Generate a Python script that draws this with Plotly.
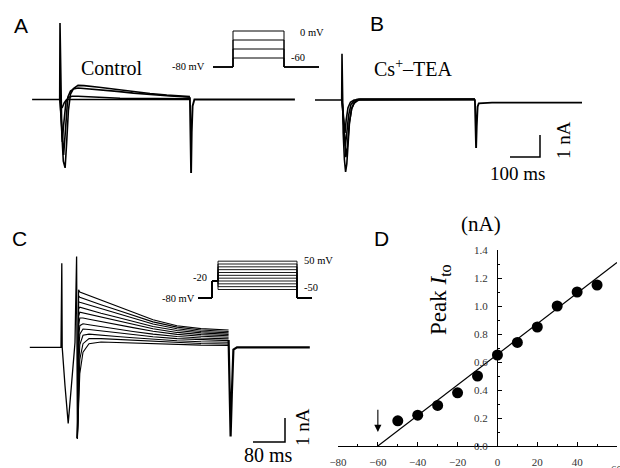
import plotly.graph_objects as go

W, H = 620, 468
SERIF = "Liberation Serif"
SANS = "Liberation Sans"

# ---------------- data ----------------
# Panel A (Control): time (ms) vs current (nA)
a_t1 = [96, 99, 100, 102, 106, 111, 117, 122, 128, 135, 145, 160, 180, 230, 290, 345, 400, 456, 533]
a_i1 = [0, 0, 3.48, 1.0, -1.5, -2.8, -3.11, -2.0, -0.5, 0.25, 0.5, 0.64, 0.63, 0.56, 0.45, 0.35, 0.27, 0.2, 0.13]
a_t2 = [100, 104, 108, 112, 116, 120, 126, 135, 145, 160, 180, 230, 290, 345, 400, 456, 533]
a_i2 = [0, -1.0, -2.0, -2.52, -1.8, -0.8, 0.1, 0.38, 0.48, 0.52, 0.5, 0.45, 0.37, 0.29, 0.22, 0.17, 0.1]
a_t3 = [100, 103, 106, 108, 111, 115, 120, 128, 140, 160, 200, 300, 533]
a_i3 = [0, -0.8, -1.6, -1.93, -1.3, -0.6, -0.1, 0.1, 0.15, 0.15, 0.12, 0.06, 0.03]
a_t4 = [7, 100, 104, 108, 114, 122, 533]
a_i4 = [0, 0, -0.3, -0.35, -0.15, 0, 0]
a_tail_t = [533, 535, 537, 539, 542, 548, 600, 883]
a_tail_i = [0.1, -1.5, -3.34, -1.5, -0.3, 0, 0, 0]

# Panel A inset protocol (mV)
a_prot_t = [0, 100, 100, 355, 355, 530]
a_levels = [0, -20, -40, -60]
a_hold = -80

# Panel B (Cs+-TEA)
b_t1 = [10, 96, 99, 100, 101, 104, 108, 112, 116, 120, 125, 132, 140, 150, 160, 543]
b_i1 = [0, 0, 0, 2.1, 0.3, -1.5, -2.7, -3.27, -2.9, -2.0, -1.0, -0.4, -0.15, -0.05, 0.03, 0.03]
b_t2 = [100, 104, 108, 113, 118, 124, 132, 142, 155, 543]
b_i2 = [0, -0.9, -2.0, -2.6, -2.1, -1.1, -0.4, -0.1, 0.03, 0.03]
b_t3 = [100, 104, 108, 111, 116, 122, 130, 140, 150, 543]
b_i3 = [0, -0.8, -1.8, -2.1, -1.5, -0.7, -0.2, -0.05, 0.03, 0.03]
b_t4 = [100, 104, 107, 110, 114, 120, 128, 140, 543]
b_i4 = [0, -0.6, -1.3, -1.5, -0.9, -0.35, -0.1, 0, 0.03]
b_tail_t = [543, 545, 547, 549, 552, 556, 600, 900]
b_tail_i = [0.03, -1.0, -2.18, -1.2, -0.3, -0.15, -0.12, -0.12]

# Panel C: prepulse + test steps (-50 .. 50 mV)
c_pre_t = [12, 90, 92, 93, 100, 108, 116, 125, 129, 130, 131]
c_pre_i = [0, 0, 3.5, 0, -1.6, -3.17, -1.6, 0.2, 3.78, 0, -3.79]
c_t = [131, 134, 137, 145, 160, 190, 230, 270, 320, 380, 440, 509]
c_levels = [50, 40, 30, 20, 10, 0, -10, -20, -30, -40, -50]
c_i50 = [-3.79, 2.4, 2.30, 2.25, 2.15, 1.95, 1.70, 1.45, 1.15, 0.90, 0.78, 0.72]
c_i40 = [-3.79, 2.15, 2.08, 2.03, 1.95, 1.77, 1.55, 1.33, 1.06, 0.84, 0.72, 0.66]
c_i30 = [-3.79, 1.9, 1.88, 1.84, 1.76, 1.60, 1.40, 1.21, 0.97, 0.77, 0.66, 0.60]
c_i20 = [-3.79, 1.6, 1.67, 1.63, 1.56, 1.42, 1.25, 1.08, 0.87, 0.70, 0.60, 0.54]
c_i10 = [-3.79, 1.3, 1.46, 1.43, 1.37, 1.25, 1.10, 0.95, 0.77, 0.62, 0.53, 0.48]
c_i0 = [-3.79, 0.9, 1.22, 1.22, 1.17, 1.07, 0.94, 0.82, 0.67, 0.54, 0.46, 0.42]
c_im10 = [-3.79, 0.4, 0.9, 0.98, 0.94, 0.86, 0.76, 0.66, 0.55, 0.45, 0.39, 0.35]
c_im20 = [-3.79, -0.2, 0.55, 0.76, 0.74, 0.68, 0.60, 0.53, 0.44, 0.36, 0.31, 0.28]
c_im30 = [-3.79, -0.9, 0.1, 0.5, 0.55, 0.50, 0.45, 0.40, 0.33, 0.27, 0.23, 0.21]
c_im40 = [-3.79, -1.6, -0.5, 0.15, 0.36, 0.36, 0.33, 0.29, 0.24, 0.19, 0.16, 0.14]
c_im50 = [-3.79, -2.3, -1.1, -0.2, 0.15, 0.22, 0.20, 0.17, 0.14, 0.11, 0.09, 0.08]
c_tail_t = [509, 512, 514, 517, 521, 530, 560, 712]
c_tail_i = [0.3, -2.0, -3.72, -2.0, -0.1, 0, 0, 0]

# Panel C inset protocol
c_prot_t = [0, 70, 70, 100, 100, 495, 495, 570]
c_hold, c_pre = -80, -20

# Panel D: peak Ito vs test potential
d_v = [-50, -40, -30, -20, -10, 0, 10, 20, 30, 40, 50]
d_peak = [0.18, 0.22, 0.29, 0.38, 0.50, 0.65, 0.74, 0.85, 1.00, 1.10, 1.15]
d_fit_v = [-60, 60]
d_fit_i = [0.0, 1.31]
d_xticks = [-80, -60, -40, -20, 0, 20, 40, 60]

# scale bars
sb_b_ms, sb_b_na = 100, 1
sb_c_ms, sb_c_na = 80, 1

# ---------------- layout helpers ----------------
def dx(p0, p1):
    return [p0 / W, p1 / W]

def dy(top, bot):
    return [1 - bot / H, 1 - top / H]

def px(x):
    return x / W

def py(y):
    return 1 - y / H

fig = go.Figure()
K = "black"

def line(x, y, ax, w=1.4):
    fig.add_trace(go.Scatter(x=x, y=y, mode="lines", line=dict(color=K, width=w),
                             xaxis="x" + ax, yaxis="y" + ax, hoverinfo="skip"))

# A
for t, i in [(a_t4, a_i4), (a_t3, a_i3), (a_t2, a_i2), (a_t1, a_i1)]:
    line(t, i, "", 1.6)
line(a_tail_t, a_tail_i, "", 1.9)
# A inset
for v in a_levels:
    line(a_prot_t, [a_hold, a_hold, v, v, a_hold, a_hold], "2", 1)
# B
for t, i in [(b_t4, b_i4), (b_t3, b_i3), (b_t2, b_i2), (b_t1, b_i1)]:
    line(t, i, "3", 1.6)
line(b_tail_t, b_tail_i, "3", 1.9)
sb_b_x0, sb_b_y0 = 660, -2.59
line([sb_b_x0, sb_b_x0 + sb_b_ms, sb_b_x0 + sb_b_ms],
     [sb_b_y0, sb_b_y0, sb_b_y0 + sb_b_na], "3", 1.5)
# C
line(c_pre_t, c_pre_i, "4", 1.3)
for i in [c_i50, c_i40, c_i30, c_i20, c_i10, c_i0, c_im10, c_im20, c_im30, c_im40, c_im50]:
    line(c_t, i, "4", 1.1)
line(c_tail_t, c_tail_i, "4", 2.2)
sb_c_x0, sb_c_y0 = 570, -3.95
line([sb_c_x0, sb_c_x0 + sb_c_ms, sb_c_x0 + sb_c_ms],
     [sb_c_y0, sb_c_y0, sb_c_y0 + sb_c_na], "4", 1.5)
# C inset
for v in c_levels:
    line(c_prot_t, [c_hold, c_hold, c_pre, c_pre, v, v, c_hold, c_hold], "5", 0.9)
# D
fig.add_trace(go.Scatter(x=d_fit_v, y=d_fit_i, mode="lines", line=dict(color=K, width=1.2),
                         xaxis="x6", yaxis="y6", hoverinfo="skip", cliponaxis=False))
fig.add_trace(go.Scatter(x=d_v, y=d_peak, mode="markers", marker=dict(color=K, size=11),
                         xaxis="x6", yaxis="y6", hoverinfo="skip", cliponaxis=False))

hid = dict(visible=False, fixedrange=True, automargin=False)
fig.update_layout(
    template="none",
    width=W, height=H, margin=dict(l=0, r=0, t=0, b=0, pad=0, autoexpand=False),
    paper_bgcolor="white", plot_bgcolor="rgba(0,0,0,0)", showlegend=False,
    xaxis=dict(hid, domain=dx(30, 310), range=[0, 280 / 0.3]),
    yaxis=dict(hid, domain=dy(15, 180), range=[(99.5 - 180) / 22, (99.5 - 15) / 22]),
    xaxis2=dict(hid, domain=dx(200, 330), range=[(200 - 213) / 0.2, (330 - 213) / 0.2], anchor="y2"),
    yaxis2=dict(hid, domain=dy(20, 75), range=[(31 - 75) / 0.45, (31 - 20) / 0.45], anchor="x2"),
    xaxis3=dict(hid, domain=dx(312, 620), range=[0, 308 / 0.3], anchor="y3"),
    yaxis3=dict(hid, domain=dy(15, 180), range=[(100 - 180) / 22, (100 - 15) / 22], anchor="x3"),
    xaxis4=dict(hid, domain=dx(25, 320), range=[0, 295 / 0.4], anchor="y4"),
    yaxis4=dict(hid, domain=dy(240, 455), range=[(347.3 - 455) / 24, (347.3 - 240) / 24], anchor="x4"),
    xaxis5=dict(hid, domain=dx(190, 320), range=[(190 - 198) / 0.2, (320 - 198) / 0.2], anchor="y5"),
    yaxis5=dict(hid, domain=dy(250, 305), range=[-20 - (305 - 281) / 0.2833, -20 - (250 - 281) / 0.2833], anchor="x5"),
    xaxis6=dict(domain=dx(338, 617), range=[-80, 60], anchor="y6", showline=True, linecolor=K,
                linewidth=1, ticks="inside", ticklen=4, tickcolor=K, tickvals=d_xticks,
                showgrid=False, zeroline=False, fixedrange=True, ticklabelstandoff=6, automargin=False,
                tickfont=dict(family=SERIF, size=11, color="#333"),
                minor=dict(ticks="inside", ticklen=2, dtick=10, tickcolor=K, showgrid=False)),
    yaxis6=dict(domain=dy(250, 446), range=[0, 1.4], anchor="free", position=497 / W,
                showline=True, linecolor=K, linewidth=1, ticks="inside", ticklen=4, tickcolor=K,
                dtick=0.2, tickformat=".1f", showgrid=False, zeroline=False, fixedrange=True,
                ticklabelstandoff=7, automargin=False, tickfont=dict(family=SERIF, size=11, color="#333"),
                minor=dict(ticks="inside", ticklen=2, dtick=0.1, tickcolor=K, showgrid=False)),
)

ann = []
def txt(x, y, s, size, fam=SERIF, xanchor="center", angle=0, color=K):
    ann.append(dict(x=px(x), y=py(y), xref="paper", yref="paper", text=s, showarrow=False,
                    xanchor=xanchor, yanchor="middle", textangle=angle,
                    font=dict(family=fam, size=size, color=color)))

txt(21, 25, "A", 21, SANS)
txt(377, 23, "B", 21, SANS)
txt(19, 238, "C", 21, SANS)
txt(381, 238, "D", 21, SANS)
txt(112, 68, "Control", 20)
txt(413, 68, "Cs<sup>+</sup>\u2013TEA", 20)
txt(207, 67, "-80 mV", 10.5, xanchor="right")
txt(298, 33, "0 mV", 10.5, xanchor="left")
txt(289, 57, "-60", 10.5, xanchor="left")
txt(517, 173, "100 ms", 19)
txt(563, 140, "1 nA", 19, angle=-90)
txt(197, 298, "-80 mV", 10.5, xanchor="right")
txt(200, 277, "-20", 10.5)
txt(302, 260, "50 mV", 10.5, xanchor="left")
txt(302, 287, "-50", 10.5, xanchor="left")
txt(268, 455, "80 ms", 20)
txt(302, 427, "1 nA", 19, angle=-90)
txt(481, 224, "(nA)", 21)
txt(440, 300, "Peak <i>I</i><sub>to</sub>", 23, angle=-90)
# last x tick label, cut by the right edge as in the reference
ann.append(dict(x=d_xticks[-1], y=py(463), xref="x6", yref="paper", text=str(d_xticks[-1]),
                showarrow=False, xanchor="center", yanchor="middle", yshift=-6,
                font=dict(family=SERIF, size=11, color="#333")))

ann.append(dict(x=-60, y=0.1, ax=-60, ay=0.27, xref="x6", yref="y6", axref="x6", ayref="y6",
                showarrow=True, arrowhead=2, arrowsize=1.3, arrowwidth=1.1, arrowcolor=K, text=""))
fig.update_layout(annotations=ann)

fig.write_html("out.html", config={"displayModeBar": False},
               post_script="document.body.style.margin='0px';")
